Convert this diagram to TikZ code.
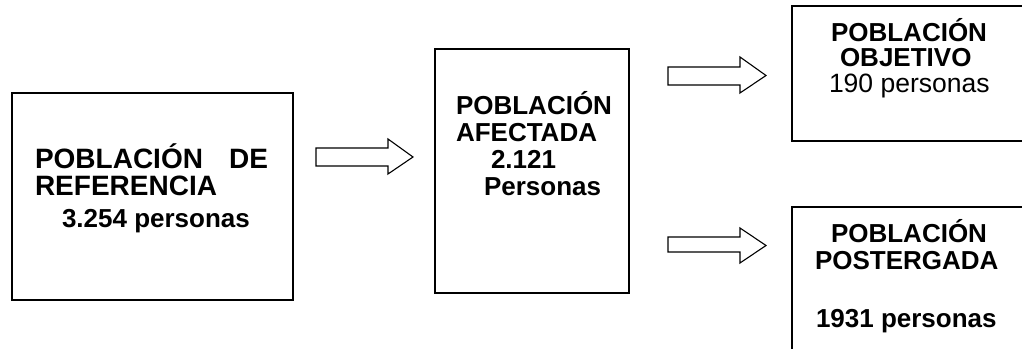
\documentclass[tikz,border=0pt]{standalone}
\usepackage{fontspec}
\setmainfont{Liberation Sans}
\begin{document}
\begin{tikzpicture}[x=1pt,y=1pt,
  box/.style={draw=black,line width=1.1pt,inner sep=0pt,outer sep=0pt},
  txt/.style={inner sep=0pt,outer sep=0pt,anchor=base west,font=\bfseries\fontsize{26}{26}\selectfont},
  big/.style={txt,font=\bfseries\fontsize{28}{28}\selectfont},
  reg/.style={txt,font=\fontsize{26.5}{26}\selectfont},
  blockarrow/.style={draw=black,line width=1.1pt,line join=miter,fill=white}]
\useasboundingbox (0,0) rectangle (1022,348);
\clip (0,0) rectangle (1022,348);
% boxes
\node[box,minimum width=281pt,minimum height=207pt] (ref) at (152.5,151.5) {};
\node[box,minimum width=194pt,minimum height=244pt] (afe) at (532,177) {};
\node[box,minimum width=238pt,minimum height=135pt] (obj) at (911,274.5) {};
\node[box,minimum width=238pt,minimum height=153pt] (pos) at (911,64.5) {};
% box 1 text
\node[big] (r1) at (35,179) {POBLACIÓN};
\node[big,anchor=base east] (r2) at (268,179) {DE};
\node[big] (r3) at (35,152) {REFERENCIA};
\node[txt] (r4) at (62,120) {3.254 personas};
% box 2 text
\node[txt] (a1) at (456,233) {POBLACIÓN};
\node[txt] (a2) at (456,206) {AFECTADA};
\node[txt] (a3) at (491,179) {2.121};
\node[txt] (a4) at (484,152) {Personas};
% box 3 text
\node[txt] (o1) at (831,306) {POBLACIÓN};
\node[txt] (o2) at (840,281) {OBJETIVO};
\node[reg] (o3) at (829,255) {190 personas};
% box 4 text
\node[txt] (p1) at (831,105) {POBLACIÓN};
\node[txt] (p2) at (815,78) {POSTERGADA};
\node[txt] (p3) at (816,20) {1931 personas};
% block arrows
\coordinate (t1) at (413,191);
\draw[blockarrow] (316,200) -- (388,200) -- (388,209) -- (t1) -- (388,174) -- (388,182) -- (316,182) -- cycle;
\coordinate (t2) at (766,272.5);
\draw[blockarrow] (668,281) -- (740,281) -- (740,291) -- (t2) -- (740,255) -- (740,263) -- (668,263) -- cycle;
\coordinate (t3) at (766,102.5);
\draw[blockarrow] (668,111) -- (740,111) -- (740,120) -- (t3) -- (740,85) -- (740,96) -- (668,96) -- cycle;
\end{tikzpicture}
\end{document}
